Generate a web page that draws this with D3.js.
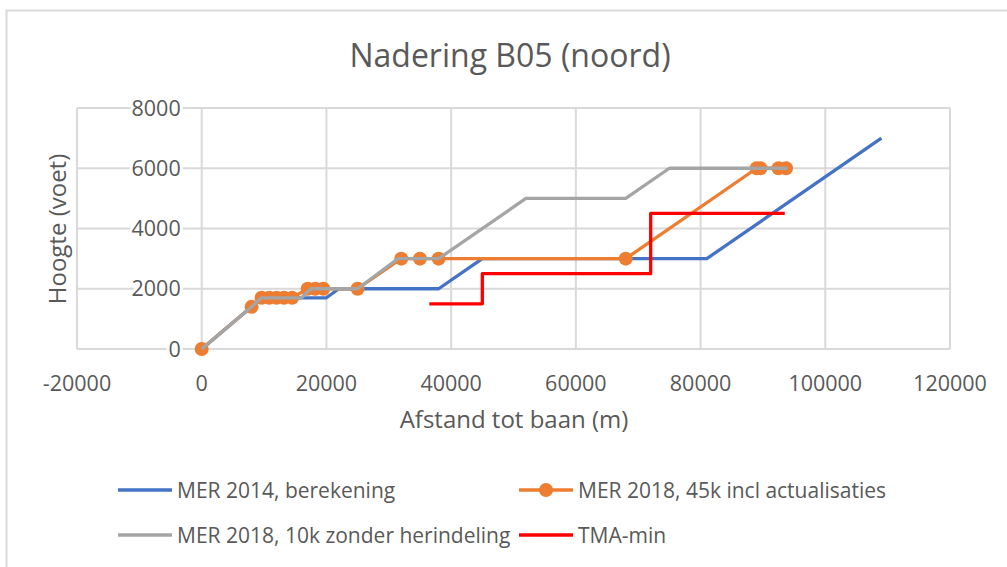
<!DOCTYPE html>
<html>
  <head>
    <meta charset="UTF-8">
    <title>Nadering B05 (noord)</title>
    <script src="https://d3js.org/d3.v7.min.js"></script>
    <style>
    body { margin: 0; background: #fff; }
    text { font-family: "Open Sans", sans-serif; fill: #595959; }
    .grid line { stroke: #d9d9d9; stroke-width: 2px; }
    .tick-label { font-size: 21.5px; }
    </style>
  </head>
  <body>
  <script type="text/javascript">

  // --- data (afstand in m, hoogte in voet) ---
  var xTicks = [-20000, 0, 20000, 40000, 60000, 80000, 100000, 120000]
  var yTicks = [0, 2000, 4000, 6000, 8000]

  var mer2014 = [[0, 0], [8000, 1400], [9600, 1700], [20000, 1700], [22000, 2000],
    [38000, 2000], [45000, 3000], [81000, 3000], [109000, 7000]]

  var mer2018_45k = [[0, 0], [8000, 1400], [9600, 1700], [10800, 1700], [12000, 1700],
    [13200, 1700], [14500, 1700], [17000, 2000], [18200, 2000], [19500, 2000],
    [25000, 2000], [32000, 3000], [35000, 3000], [38000, 3000], [68000, 3000],
    [89000, 6000], [89600, 6000], [92500, 6000], [93700, 6000]]

  var mer2018_10k = [[0, 0], [8000, 1400], [9600, 1700], [16000, 1700], [17500, 2000],
    [25000, 2000], [31500, 3000], [38000, 3000], [52000, 5000], [68000, 5000],
    [75000, 6000], [94000, 6000]]

  var tmaMin = [[36500, 1500], [45000, 1500], [45000, 2500], [72000, 2500],
    [72000, 4500], [93500, 4500]]

  var series = [
    { name: 'MER 2014, berekening', data: mer2014, color: '#4472c4', marker: false },
    { name: 'MER 2018, 45k incl actualisaties', data: mer2018_45k, color: '#ed7d31', marker: true },
    { name: 'MER 2018, 10k zonder herindeling', data: mer2018_10k, color: '#a5a5a5', marker: false },
    { name: 'TMA-min', data: tmaMin, color: '#ff0000', marker: false }
  ]

  var W = 1007, H = 567

  var svg = d3.select('body')
    .append('svg')
    .attr('width', W)
    .attr('height', H)

  // chart border
  svg.append('rect')
    .attr('x', 6.5).attr('y', 10.5)
    .attr('width', W + 10).attr('height', H + 10)
    .attr('fill', 'none')
    .attr('stroke', '#d9d9d9')
    .attr('stroke-width', 2)

  var x = d3.scaleLinear().domain([-20000, 120000]).range([77, 950])
  var y = d3.scaleLinear().domain([0, 8000]).range([349, 108])

  // gridlines
  var grid = svg.append('g').attr('class', 'grid')
  grid.selectAll('.hg')
    .data(yTicks)
    .enter().append('line')
      .attr('x1', x(-20000)).attr('x2', x(120000))
      .attr('y1', d => y(d)).attr('y2', d => y(d))
  grid.selectAll('.vg')
    .data(xTicks)
    .enter().append('line')
      .attr('x1', d => x(d)).attr('x2', d => x(d))
      .attr('y1', y(0)).attr('y2', y(8000))

  // y tick labels sit next to the vertical axis at x = 0
  svg.selectAll('.ylab')
    .data(yTicks)
    .enter().append('text')
      .attr('class', 'tick-label')
      .attr('x', x(0) - 21)
      .attr('y', d => y(d))
      .attr('dy', '0.36em')
      .attr('text-anchor', 'end')
      .attr('stroke', '#fff')
      .attr('stroke-width', 6)
      .attr('paint-order', 'stroke')
      .text(d => d)

  svg.selectAll('.xlab')
    .data(xTicks)
    .enter().append('text')
      .attr('class', 'tick-label')
      .attr('x', d => x(d))
      .attr('y', 391)
      .attr('text-anchor', 'middle')
      .text(d => d)

  // titles
  svg.append('text')
    .attr('x', 510).attr('y', 67)
    .attr('text-anchor', 'middle')
    .style('font-size', '32px')
    .text('Nadering B05 (noord)')

  svg.append('text')
    .attr('x', 514).attr('y', 428)
    .attr('text-anchor', 'middle')
    .style('font-size', '24px')
    .text('Afstand tot baan (m)')

  svg.append('text')
    .attr('transform', 'translate(66,229) rotate(-90)')
    .attr('text-anchor', 'middle')
    .style('font-size', '24px')
    .text('Hoogte (voet)')

  // series
  var line = d3.line().x(d => x(d[0])).y(d => y(d[1]))

  series.forEach(function(s) {
    svg.append('path')
      .datum(s.data)
      .attr('d', line)
      .attr('fill', 'none')
      .attr('stroke', s.color)
      .attr('stroke-width', 3.3)
      .attr('stroke-linejoin', 'round')
    if (s.marker) {
      svg.append('g').selectAll('circle')
        .data(s.data)
        .enter().append('circle')
          .attr('cx', d => x(d[0]))
          .attr('cy', d => y(d[1]))
          .attr('r', 7)
          .attr('fill', s.color)
    }
  })

  // legend
  var legendPos = [[118, 490], [519, 490], [118, 535], [519, 535]]
  var legend = svg.selectAll('.legend')
    .data(series)
    .enter().append('g')
      .attr('transform', (d, i) => 'translate(' + legendPos[i] + ')')

  legend.append('line')
    .attr('x1', 0).attr('x2', 54)
    .attr('stroke', d => d.color)
    .attr('stroke-width', 3.3)
  legend.filter(d => d.marker).append('circle')
    .attr('cx', 27).attr('r', 7)
    .attr('fill', d => d.color)
  legend.append('text')
    .attr('x', 59)
    .attr('dy', '0.36em')
    .style('font-size', '21px')
    .text(d => d.name)

  </script>
  </body>
</html>
